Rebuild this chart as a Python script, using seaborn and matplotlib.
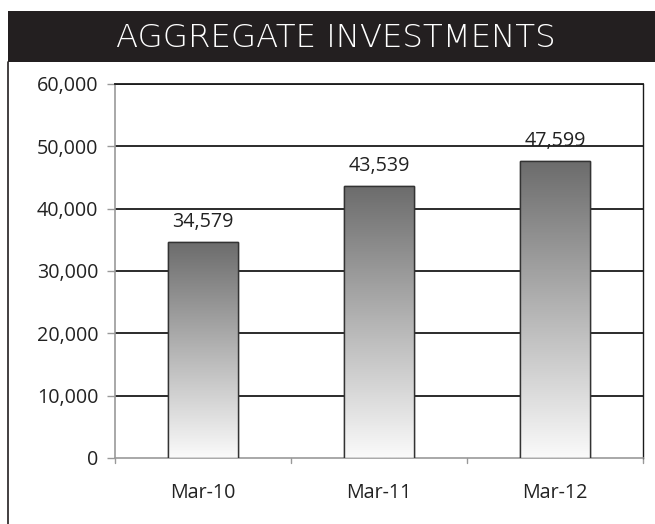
import numpy as np
import pandas as pd
import matplotlib
matplotlib.use("Agg")
import matplotlib.pyplot as plt
import seaborn as sns
from matplotlib.patches import Rectangle
from matplotlib.lines import Line2D

# data
periods = ["Mar-10", "Mar-11", "Mar-12"]
investments = [34579, 43539, 47599]
y_ticks = [0, 10000, 20000, 30000, 40000, 50000, 60000]
title = "AGGREGATE INVESTMENTS"

df = pd.DataFrame({"period": periods, "value": investments})

sns.set_theme(style="white")
plt.rcParams['font.family'] = ['Open Sans', 'DejaVu Sans']

fig = plt.figure(figsize=(6.55, 5.24), dpi=100)
ax = fig.add_axes([0.1756, 0.126, 0.806, 0.714])

sns.barplot(data=df, x="period", y="value", ax=ax, color="#888888",
            width=0.4, edgecolor="#333333", linewidth=1.0, zorder=3)

ax.set_ylim(0, 60000)
ax.set_xlim(-0.5, 2.5)
ax.set_yticks(y_ticks)
ax.set_yticklabels([f"{v:,}" for v in y_ticks], fontsize=14.2, color="#222222")
ax.set_xlabel("")
ax.set_ylabel("")

# gradient fill for each bar
grad = np.linspace(0, 1, 256).reshape(-1, 1)
cmap = matplotlib.colors.LinearSegmentedColormap.from_list("g", ["#6c6c6c", "#b4b4b4", "#fafafa"])
for bar in ax.patches:
    x0, y0 = bar.get_x(), bar.get_y()
    w, h = bar.get_width(), bar.get_height()
    im = ax.imshow(grad, extent=[x0, x0 + w, y0, y0 + h], origin="upper",
                   cmap=cmap, aspect="auto", zorder=3.5)
    im.set_clip_path(bar)
    ax.add_patch(Rectangle((x0, y0), w, h, fill=False, edgecolor="#333333",
                           linewidth=1.0, zorder=4))
    ax.text(x0 + w / 2, y0 + h + 1650, f"{int(h):,}", ha="center", va="bottom",
            fontsize=14.2, color="#222222", zorder=5)

# black gridlines
for v in y_ticks[1:]:
    ax.axhline(v, color="#1a1a1a", linewidth=1.3, zorder=2)

# x ticks sit between categories
ax.set_xticks([0, 1, 2])
ax.set_xticklabels(periods, fontsize=14.2, color="#222222")
ax.tick_params(axis="x", length=0, pad=18)
for xb in [-0.5, 0.5, 1.5, 2.5]:
    ax.plot([xb, xb], [0, -0.013], transform=ax.get_xaxis_transform(),
            color="#999999", linewidth=1.0, clip_on=False)
ax.tick_params(axis="y", direction="out", length=6, color="#999999", width=1.0,
               left=True, pad=6)

for s in ["left", "bottom"]:
    ax.spines[s].set_color("#999999")
    ax.spines[s].set_linewidth(1.2)
ax.spines["right"].set_color("#1a1a1a")
ax.spines["top"].set_color("#1a1a1a")
ax.spines["right"].set_linewidth(1.0)
ax.spines["top"].set_linewidth(1.3)

# title banner
banner = Rectangle((0.012, 0.8817), 0.988, 0.0973, transform=fig.transFigure,
                   facecolor="#231f20", edgecolor="none")
fig.patches.append(banner)
fig.text(0.513, 0.928, title, ha="center", va="center", color="white",
         fontsize=23.3, fontweight="light", family=["DejaVu Sans"])

# outer frame line on the left
fig.lines.append(Line2D([0.0125, 0.0125], [0, 0.8817], transform=fig.transFigure,
                        color="#231f20", linewidth=1.2))

fig.savefig("out.png", dpi=100)
